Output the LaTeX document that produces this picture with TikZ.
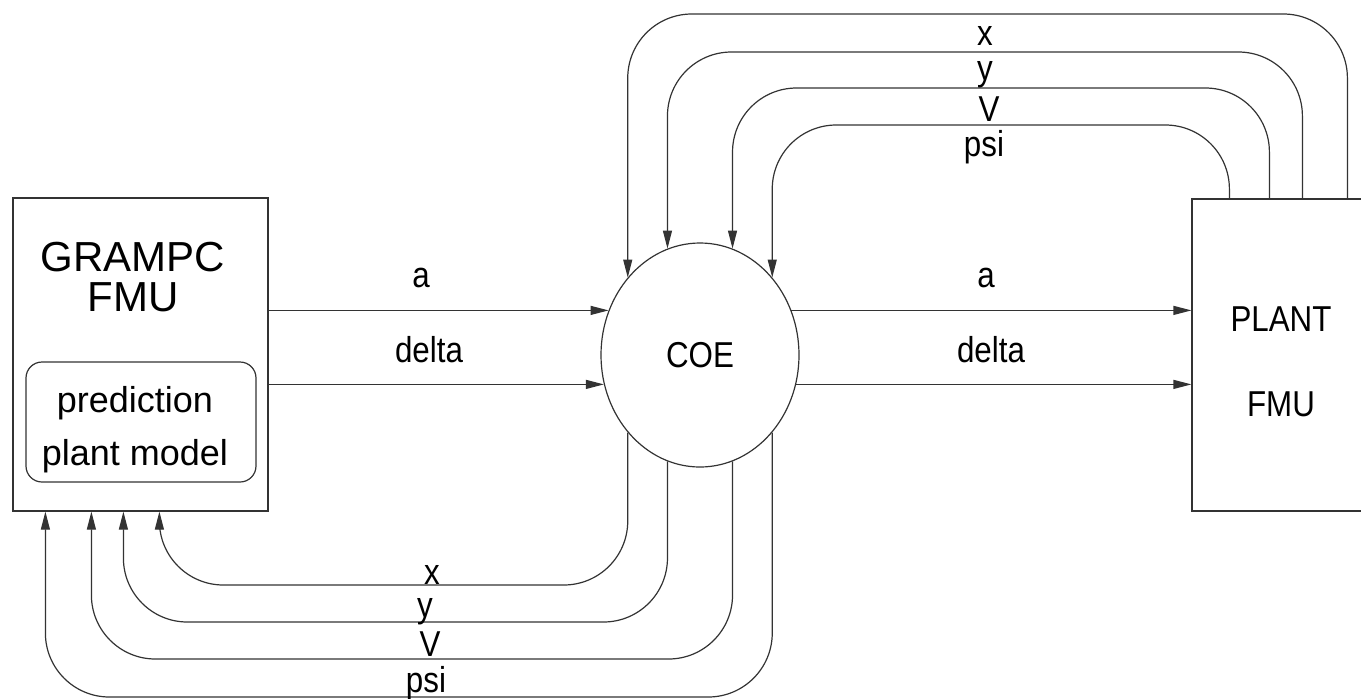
\documentclass[tikz,border=0pt]{standalone}
\usepackage{fontspec}
\setmainfont{Liberation Sans}
\newfontfamily\narrowsf[FakeStretch=0.87]{Liberation Sans}
\usetikzlibrary{arrows.meta,shapes.geometric}

\begin{document}
\begin{tikzpicture}[x=0.5pt, y=-0.5pt,
    block/.style={draw=black!80, line width=0.6pt, inner sep=0pt},
    sig/.style={font=\narrowsf\fontsize{18}{18}\selectfont, inner sep=0pt, anchor=base},
    flow/.style={draw=black!80, line width=0.6pt, rounded corners=32pt,
        -{Triangle[length=9pt,width=4.5pt]}}]
\useasboundingbox (0,0) rectangle (1361,698);
\clip (0,0) rectangle (1361,698);

% blocks
\node[block, minimum width=127.5pt, minimum height=156.5pt] (grampc) at (140.5,354.5) {};
\node[font=\fontsize{21}{20}\selectfont, align=center] (grampcname) at (133,277) {GRAMPC\\FMU};
\node[block, rounded corners=8pt, minimum width=115pt, minimum height=60pt] (model) at (141,422) {};
\node[font=\fontsize{18}{26.5}\selectfont, align=center] (modelname) at (135,430) {prediction\\plant model};
\node[block, ellipse, minimum width=99pt, minimum height=112pt,
    font=\narrowsf\fontsize{18}{18}\selectfont] (coe) at (700,355) {COE};
\node[block, minimum width=104pt, minimum height=156pt] (plant) at (1296,355) {};
\node[font=\narrowsf\fontsize{18}{42.5}\selectfont, align=center] (plantname) at (1281,362) {PLANT\\FMU};

% inputs a, delta
\draw[flow] (grampc.east |- coe.154) -- (coe.154);
\draw[flow] (grampc.east |- coe.197) -- (coe.197);
\draw[flow] (coe.26) -- (coe.26 -| plant.west);
\draw[flow] (coe.343) -- (coe.343 -| plant.west);
\node[sig] (la) at (421,287) {a};
\node[sig] (ldelta) at (429,362) {delta};
\node[sig] (ra) at (986,287) {a};
\node[sig] (rdelta) at (991,362) {delta};

% states from the plant
\path (plant.north west) ++(156,0) coordinate (px) ++(-45,0) coordinate (py)
    ++(-33,0) coordinate (pv) ++(-40,0) coordinate (ppsi);
\draw[flow] (px) |- (coe.133 |- 0,14) -- (coe.133);
\draw[flow] (py) |- (coe.107 |- 0,52) -- (coe.107);
\draw[flow] (pv) |- (coe.73 |- 0,88) -- (coe.73);
\draw[flow] (ppsi) |- (coe.47 |- 0,125) -- (coe.47);
\node[sig] (tx) at (985,45) {x};
\node[sig] (ty) at (985,80) {y};
\node[sig] (tv) at (989,121) {V};
\node[sig] (tpsi) at (984,156) {psi};

% states back to the controller
\path (grampc.south west) ++(33,0) coordinate (gpsi) ++(46,0) coordinate (gv)
    ++(32,0) coordinate (gy) ++(36,0) coordinate (gx);
\draw[flow] (coe.227) |- (gx |- 0,585) -- (gx);
\draw[flow] (coe.253) |- (gy |- 0,622) -- (gy);
\draw[flow] (coe.287) |- (gv |- 0,659) -- (gv);
\draw[flow] (coe.313) |- (gpsi |- 0,697) -- (gpsi);
\node[sig] (bx) at (432,584) {x};
\node[sig] (by) at (425,617) {y};
\node[sig] (bv) at (430,656) {V};
\node[sig] (bpsi) at (426,692) {psi};
\end{tikzpicture}
\end{document}
